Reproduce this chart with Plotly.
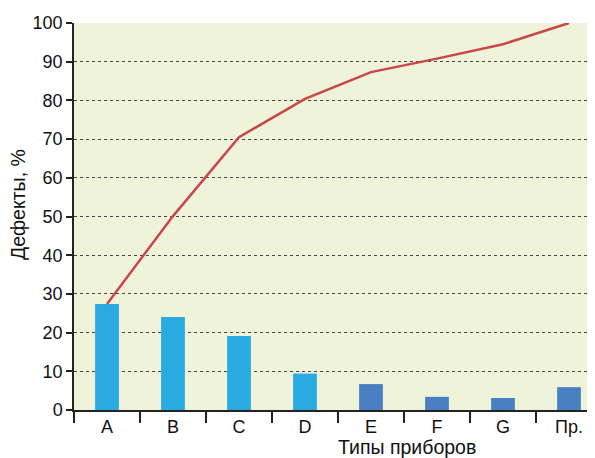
import plotly.graph_objects as go

categories = ["A", "B", "C", "D", "E", "F", "G", "Пр."]
defects = [27.4, 24.0, 19.1, 9.4, 6.7, 3.4, 3.1, 5.9]
cumulative = [27.4, 50.1, 70.5, 80.4, 87.3, 90.8, 94.5, 100.0]
bar_colors = ["#29ABE2"] * 4 + ["#4A7FC1"] * 4
y_ticks = list(range(0, 101, 10))

W, H = 587, 450
L, R, T, B = 66, 0, 15, 48
pw, ph = W - L - R, H - T - B

fig = go.Figure()
fig.add_trace(go.Bar(x=categories, y=defects, marker_color=bar_colors,
                     marker_line_width=0, width=0.36))
fig.add_trace(go.Scatter(x=categories, y=cumulative, mode="lines",
                         line=dict(color="#C8474B", width=2.5)))

font = dict(family="Liberation Sans, Arial, sans-serif", size=18, color="#111")
title_font = dict(family="Liberation Sans, Arial, sans-serif", size=19.5, color="#111")
fig.update_layout(
    width=W, height=H,
    margin=dict(l=L, r=R, t=T, b=B),
    paper_bgcolor="white", plot_bgcolor="#EEF3DA",
    showlegend=False, font=font,
    xaxis=dict(type="category", range=[-0.5, -0.5 + pw / 66], tickson="boundaries",
               ticks="outside", ticklen=11, tickwidth=1.5, tickcolor="#222",
               showline=True, linecolor="#222", linewidth=1.5,
               showgrid=False, tickfont=font),
    yaxis=dict(range=[0, 100], tickvals=y_ticks, ticks="outside", ticklen=6,
               tickwidth=1.5, tickcolor="#222", showline=True, linecolor="#222",
               linewidth=1.5, showgrid=True, gridcolor="#444", griddash="dot",
               gridwidth=1, zeroline=False, tickfont=font),
    annotations=[
        dict(text="Типы приборов", x=(399 - L) / pw, y=(402 - 439) / ph,
             xref="paper", yref="paper", showarrow=False, font=title_font,
             xanchor="center", yanchor="middle"),
        dict(text="Дефекты, %", x=(10 - L) / pw, y=(402 - 197) / ph,
             xref="paper", yref="paper", showarrow=False, font=title_font,
             textangle=-90, xanchor="center", yanchor="middle"),
    ],
)
fig.write_html("out.html")
